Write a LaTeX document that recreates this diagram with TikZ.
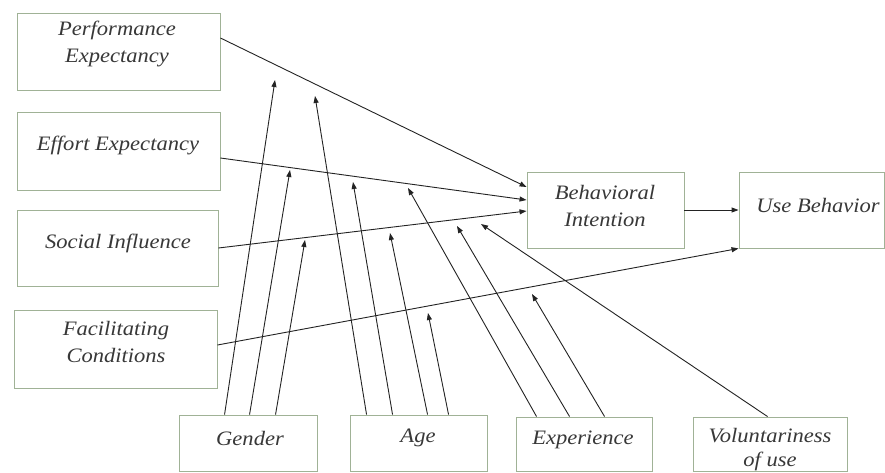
\documentclass[tikz,border=0pt]{standalone}
\usepackage{fontspec}
\setmainfont{Liberation Serif}
\newfontfamily\lblfont[FakeStretch=1.1]{Liberation Serif}
\usetikzlibrary{arrows.meta}
\definecolor{boxc}{RGB}{160,178,150}
\definecolor{linec}{RGB}{35,35,35}
\begin{document}
\begin{tikzpicture}[x=1pt,y=-1pt,
  box/.style={draw=boxc,line width=0.9pt,fill=white,inner sep=0pt},
  lbl/.style={font=\lblfont\itshape\fontsize{20.5}{27}\selectfont,text=black!78,align=center,inner sep=0pt},
  conn/.style={draw=linec,line width=0.9pt,-{Triangle[length=7pt,width=5pt]}}]
\useasboundingbox[fill=white] (0,0) rectangle (885,472);
% boxes
\node[box,minimum width=203pt,minimum height=77pt] (pe) at (118.5,51.5) {};
\node[box,minimum width=203pt,minimum height=78pt] (ee) at (118.5,151) {};
\node[box,minimum width=201pt,minimum height=76pt] (si) at (117.5,248) {};
\node[box,minimum width=203pt,minimum height=78pt] (fc) at (115.5,349) {};
\node[box,minimum width=157pt,minimum height=76pt] (bi) at (605.5,210) {};
\node[box,minimum width=145pt,minimum height=76pt] (ub) at (811.5,210) {};
\node[box,minimum width=138pt,minimum height=56pt] (gen) at (248,443) {};
\node[box,minimum width=137pt,minimum height=56pt] (age) at (418.5,443) {};
\node[box,minimum width=136pt,minimum height=54pt] (exp) at (584,444) {};
\node[box,minimum width=154pt,minimum height=54pt] (vol) at (770,444) {};
% labels
\node[lbl] (tpe) at (117,44) {Performance\\Expectancy};
\node[lbl] (tee) at (118,145) {Effort Expectancy};
\node[lbl] (tsi) at (118,243) {Social Influence};
\node[lbl] (tfc) at (116,342) {Facilitating\\Conditions};
\node[lbl] (tbi) at (605,206) {Behavioral\\Intention};
\node[lbl] (tub) at (818,205) {Use Behavior};
\node[lbl] (tgen) at (250,438) {Gender};
\node[lbl] (tage) at (418,438) {Age};
\node[lbl] (texp) at (583,440) {Experience};
\node[lbl,font=\lblfont\itshape\fontsize{20.5}{24}\selectfont] (tvol) at (770,450) {Voluntariness\\of use};
% main connectors
\draw[conn] ([yshift=13.5pt]pe.east) -- ([yshift=23pt]bi.west);
\draw[conn] ([yshift=-7pt]ee.east) -- ([yshift=10pt]bi.west);
\draw[conn] (si.east) -- ([yshift=-1pt]bi.west);
\draw[conn] ([yshift=4pt]fc.east) -- (ub.south west);
\draw[conn] (bi.east) -- (ub.west);
% moderator targets
\coordinate (g1) at (275,80);
\coordinate (g2) at (290,170);
\coordinate (g3) at (305,240);
\coordinate (a1) at (315,96);
\coordinate (a2) at (353,182);
\coordinate (a3) at (390,233);
\coordinate (a4) at (428,313);
\coordinate (e1) at (408,188);
\coordinate (e2) at (457,226);
\coordinate (e3) at (532,294);
\coordinate (v1) at (481,224);
% moderator connectors
\draw[conn] ([xshift=46pt]gen.north west) -- (g1);
\draw[conn] ([xshift=71pt]gen.north west) -- (g2);
\draw[conn] ([xshift=97pt]gen.north west) -- (g3);
\draw[conn] ([xshift=17pt]age.north west) -- (a1);
\draw[conn] ([xshift=43pt]age.north west) -- (a2);
\draw[conn] ([xshift=78pt]age.north west) -- (a3);
\draw[conn] ([xshift=99pt]age.north west) -- (a4);
\draw[conn] ([xshift=21pt]exp.north west) -- (e1);
\draw[conn] ([xshift=54pt]exp.north west) -- (e2);
\draw[conn] ([xshift=89pt]exp.north west) -- (e3);
\draw[conn] ([xshift=75pt]vol.north west) -- (v1);
\end{tikzpicture}
\end{document}
